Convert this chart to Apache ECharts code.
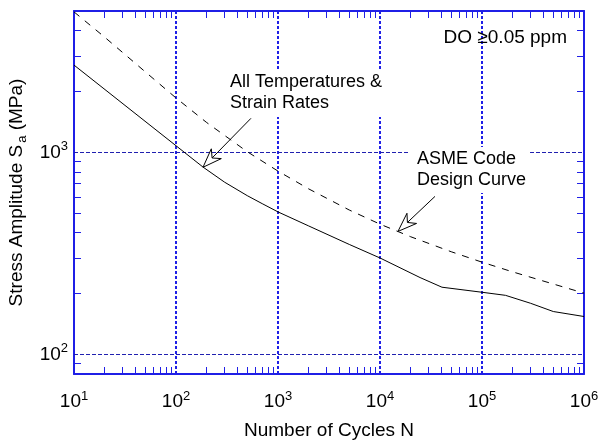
<!DOCTYPE html>
<html>
<head>
<meta charset="utf-8">
<script src="https://cdn.jsdelivr.net/npm/echarts@6/dist/echarts.min.js"></script>
<style>
  html, body { margin: 0; padding: 0; background: #fff; }
  #chart { width: 608px; height: 443px; }
</style>
</head>
<body>
<div id="chart"></div>
<script>
// all temperatures & strain rates (solid)
const cyclesAll = [10, 184, 300, 500, 700, 1000, 2000, 5000, 10000, 24700, 40500, 100000, 170000, 300000, 500000, 1000000];
const stressAll = [2700, 845, 711, 610, 557, 507, 432, 350, 300, 240, 215, 203, 196, 179, 163, 154];

// ASME code design curve (dashed)
const cyclesAsme = [10, 20, 50, 100, 200, 500, 1000, 2000, 5000, 10000, 20000, 50000, 100000, 200000, 500000, 1000000];
const stressAsme = [4950, 3710, 2500, 1857, 1403, 1006, 807, 659, 518, 441, 382, 322, 286, 256, 223, 201];

const xTickLabels = [10, 100, 1000, 10000, 100000, 1000000];
const yTickLabels = [100, 1000];
const xGrid = [100, 1000, 10000, 100000];
const yGrid = [100, 1000];
const xMinorTicks = [];
[10, 100, 1000, 10000, 100000].forEach(d => { for (let k = 2; k <= 9; k++) xMinorTicks.push(k * d); });
const yMinorTicks = [90, 200, 300, 400, 500, 600, 700, 800, 900, 2000, 3000, 4000];

// annotations: [tip, tail] in data space
const arrowAll = [[184, 843], [543, 1472]];
const arrowAsme = [[15000, 406], [34600, 605]];

const blue = '#1f1fe6';
const font = '"Liberation Sans", Arial, Helvetica, sans-serif';

const powLabel = v => {
  const e = Math.round(Math.log10(v));
  if (Math.abs(Math.pow(10, e) - v) > 1e-6 * v) return '';
  return '{b|10}{p|' + e + '}';
};
const labelRich = {
  b: { fontSize: 19, lineHeight: 24, fontFamily: font, color: '#000' },
  p: { fontSize: 13, lineHeight: 12, verticalAlign: 'top', fontFamily: font, color: '#000' }
};

const chart = echarts.init(document.getElementById('chart'));

const frameAxis = (extra) => Object.assign({
  type: 'log',
  logBase: 10,
  axisLine: { show: true, onZero: false, lineStyle: { color: blue, width: 2 } },
  axisTick: { show: true, inside: true, length: 7, lineStyle: { color: blue, width: 1 } },
  axisLabel: { show: false },
  splitLine: { show: false }
}, extra);

const minorTick = vals => ({ show: true, inside: true, length: 7, customValues: vals, lineStyle: { color: blue, width: 1 } });

chart.setOption({
  animation: false,
  backgroundColor: '#fff',
  grid: { left: 74, right: 24, top: 11, bottom: 69, containLabel: false, outerBoundsMode: 'none' },
  xAxis: [
    frameAxis({
      position: 'bottom', min: 10, max: 1000000,
      axisTick: minorTick(xMinorTicks),
      axisLabel: { show: true, margin: 16, formatter: powLabel, rich: labelRich, customValues: xTickLabels },
      name: 'Number of Cycles N', nameLocation: 'middle', nameGap: 47,
      nameTextStyle: { fontSize: 19, fontFamily: font, color: '#000' }
    }),
    frameAxis({ position: 'top', min: 10, max: 1000000, axisTick: minorTick(xMinorTicks) })
  ],
  yAxis: [
    frameAxis({
      position: 'left', min: 80, max: 5000,
      axisTick: minorTick(yMinorTicks),
      axisLabel: { show: true, margin: 6, formatter: powLabel, rich: labelRich, customValues: yTickLabels },
      name: '{t|Stress Amplitude S}{s|a}{t| (MPa)}', nameLocation: 'middle', nameGap: 37, nameRotate: 90,
      nameTextStyle: {
        fontFamily: font, color: '#000',
        rich: {
          t: { fontSize: 19, lineHeight: 24, fontFamily: font, color: '#000' },
          s: { fontSize: 13, lineHeight: 10, verticalAlign: 'bottom', padding: [0, 0, 0, 2], fontFamily: font, color: '#000' }
        }
      }
    }),
    frameAxis({ position: 'right', min: 80, max: 5000, axisTick: minorTick(yMinorTicks) })
  ],
  series: [
    {
      name: 'All Temperatures & Strain Rates',
      type: 'line',
      xAxisIndex: 0, yAxisIndex: 0,
      data: cyclesAll.map((n, i) => [n, stressAll[i]]),
      symbol: 'none',
      lineStyle: { color: '#000', width: 1 },
      z: 5,
      markLine: {
        silent: true,
        symbol: 'none',
        label: { show: false },
        z: 3,
        data: xGrid.map(v => ({ xAxis: v, lineStyle: { color: blue, width: 2, type: [3, 2] } }))
          .concat(yGrid.map(v => ({ yAxis: v, lineStyle: { color: '#2020b0', width: 1, type: [4, 2] } })))
      }
    },
    {
      name: 'ASME Code Design Curve',
      type: 'line',
      xAxisIndex: 0, yAxisIndex: 0,
      data: cyclesAsme.map((n, i) => [n, stressAsme[i]]),
      symbol: 'none',
      lineStyle: { color: '#000', width: 1, type: [7, 7] },
      z: 5
    }
  ]
});

function arrowGraphics(arrow) {
  const tip = chart.convertToPixel({ xAxisIndex: 0, yAxisIndex: 0 }, arrow[0]);
  const tail = chart.convertToPixel({ xAxisIndex: 0, yAxisIndex: 0 }, arrow[1]);
  const dx = tail[0] - tip[0], dy = tail[1] - tip[1];
  const len = Math.hypot(dx, dy);
  const ux = dx / len, uy = dy / len;
  const nx = -uy, ny = ux;
  const L = 19, W = 7, N = 13;
  const notch = [tip[0] + ux * N, tip[1] + uy * N];
  return [
    { type: 'polyline', z: 20, shape: { points: [tail, notch] }, style: { stroke: '#000', lineWidth: 1, fill: null } },
    {
      type: 'polygon', z: 21,
      shape: { points: [
        tip,
        [tip[0] + ux * L + nx * W, tip[1] + uy * L + ny * W],
        notch,
        [tip[0] + ux * L - nx * W, tip[1] + uy * L - ny * W]
      ] },
      style: { fill: '#fff', stroke: '#000', lineWidth: 1 }
    }
  ];
}

chart.setOption({
  graphic: [
    {
      type: 'text', z: 15, x: 226, y: 69,
      style: {
        text: 'All Temperatures &\nStrain Rates', font: '18px ' + font, fill: '#000',
        lineHeight: 21, backgroundColor: '#fff', padding: [3, 4, 3, 4]
      }
    },
    {
      type: 'text', z: 15, x: 410, y: 147,
      style: {
        text: 'ASME Code\nDesign Curve', font: '18px ' + font, fill: '#000',
        lineHeight: 21, backgroundColor: '#fff', padding: [2, 4, 2, 7]
      }
    },
    {
      type: 'text', z: 15, x: 567, y: 38,
      style: { text: 'DO \u22650.05 ppm', font: '19px ' + font, fill: '#000', align: 'right', verticalAlign: 'middle' }
    }
  ].concat(arrowGraphics(arrowAll), arrowGraphics(arrowAsme))
});
</script>
</body>
</html>
